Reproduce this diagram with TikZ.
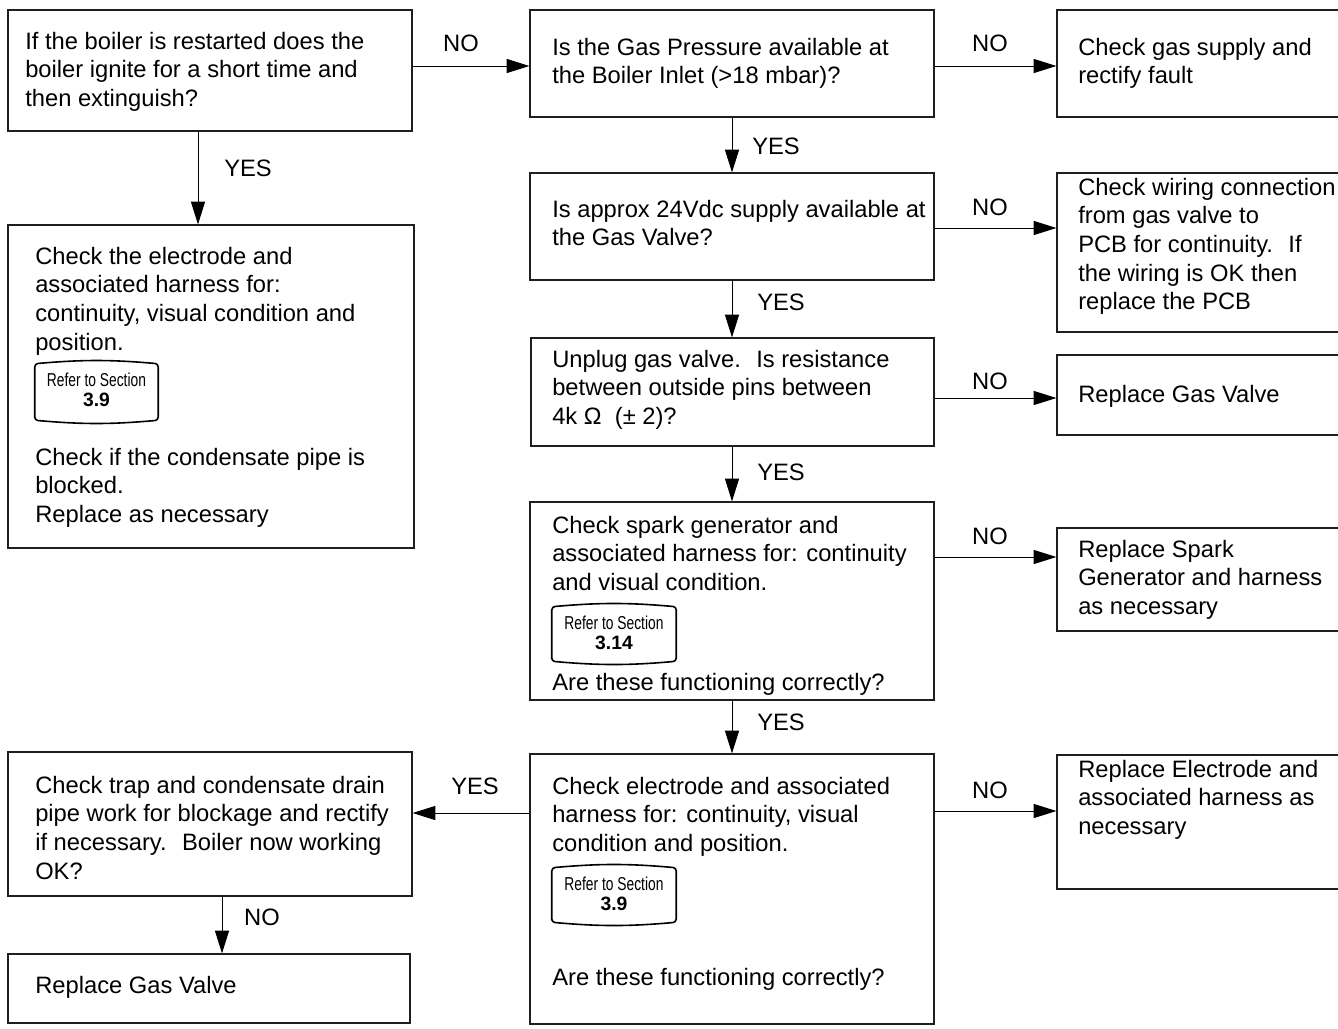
\documentclass[tikz,border=0pt]{standalone}
\usepackage{fontspec}
\usepackage{graphicx}
\setmainfont{Liberation Sans}
\usetikzlibrary{arrows.meta,fit}
\newcommand\mlines[1]{\parbox[t]{12cm}{\raggedright #1}}
\begin{document}
\begin{tikzpicture}[x=0.75pt,y=-0.75pt,
  box/.style={draw=black!88, line width=0.9pt, inner sep=0pt},
  txt/.style={anchor=base west, inner sep=0pt, font=\fontsize{17.8}{21.5}\selectfont},
  lbl/.style={inner sep=0pt, font=\fontsize{17.8}{21.5}\selectfont},
  arr/.style={draw=black, line width=0.75pt, -{Triangle[length=17pt,width=10.5pt]}},
  refbox/.style={inner sep=0pt},
  refline/.style={draw=black, line width=1.2pt, rounded corners=2.5pt},
  reftxt/.style={anchor=base, inner sep=0pt, font=\fontsize{14}{14}\selectfont}
]
\useasboundingbox (0,0) rectangle (1338,1028);

% ---- boxes ----
\node[box, fit={(8,10) (412,131)}]     (A) {};
\node[box, fit={(530,10) (934,117)}]   (B) {};
\node[box, fit={(1057,10) (1345,117)}] (C) {};
\node[box, fit={(8,225) (414,548)}]    (D) {};
\node[box, fit={(530,173) (934,280)}]  (E) {};
\node[box, fit={(1057,173) (1345,332)}] (F) {};
\node[box, fit={(531,338) (934,446)}]  (G) {};
\node[box, fit={(1057,355) (1345,435)}] (H) {};
\node[box, fit={(530,502) (934,700)}]  (I) {};
\node[box, fit={(1057,528) (1345,631)}] (J) {};
\node[box, fit={(530,754) (934,1024)}] (K) {};
\node[box, fit={(1057,755) (1345,889)}] (L) {};
\node[box, fit={(8,752) (412,896)}]    (M) {};
\node[box, fit={(8,954) (410,1023)}]   (N) {};

% ---- texts ----
\node[txt] (At) at (25,49) {\mlines{If the boiler is restarted does the\\boiler ignite for a short time and\\then extinguish?}};
\node[txt] (Bt) at (552,55) {\mlines{Is the Gas Pressure available at\\the Boiler Inlet (>18 mbar)?}};
\node[txt] (Ct) at (1078,55) {\mlines{Check gas supply and\\rectify fault}};
\node[txt] (Dt1) at (35,264) {\mlines{Check the electrode and\\associated harness for:\\continuity, visual condition and\\position.}};
\node[txt] (Dt2) at (35,465) {\mlines{Check if the condensate pipe is\\blocked.\\Replace as necessary}};
\node[txt] (Et) at (552,217) {\mlines{Is approx 24Vdc supply available at\\the Gas Valve?}};
\node[txt] (Ft) at (1078,195) {\mlines{Check wiring connection\\from gas valve to\\PCB for continuity.~ If\\the wiring is OK then\\replace the PCB}};
\node[txt] (Gt) at (552,367) {\mlines{Unplug gas valve.~ Is resistance\\between outside pins between\\4k Ω ~(± 2)?}};
\node[txt] (Ht) at (1078,402) {\mlines{Replace Gas Valve}};
\node[txt] (It1) at (552,533) {\mlines{Check spark generator and\\associated harness for: continuity\\and visual condition.}};
\node[txt] (It2) at (552,690) {\mlines{Are these functioning correctly?}};
\node[txt] (Jt) at (1078,557) {\mlines{Replace Spark\\Generator and harness\\as necessary}};
\node[txt] (Kt1) at (552,794) {\mlines{Check electrode and associated\\harness for: continuity, visual\\condition and position.}};
\node[txt] (Kt2) at (552,985) {\mlines{Are these functioning correctly?}};
\node[txt] (Lt) at (1078,777) {\mlines{Replace Electrode and\\associated harness as\\necessary}};
\node[txt] (Mt) at (35,793) {\mlines{Check trap and condensate drain\\pipe work for blockage and rectify\\if necessary.~ Boiler now working\\OK?}};
\node[txt] (Nt) at (35,993) {\mlines{Replace Gas Valve}};

% ---- refer to section boxes ----
\node[refbox, fit={(35,364) (158,420)}] (RD) {};
\node[refbox, fit={(552,607) (676,661)}] (RI) {};
\node[refbox, fit={(552,868) (676,922)}] (RK) {};
\foreach \r in {RD,RI,RK}{
  \draw[refline] (\r.south west) -- (\r.north west) to[bend left=5] (\r.north east) -- (\r.south east) to[bend left=5] (\r.south west) -- cycle;
}
\node[reftxt] (RDt) at (96.5,386) {\parbox[t]{3cm}{\centering\scalebox{0.74}[1]{Refer to Section}\\[1pt]{\fontsize{14.5}{14}\selectfont\textbf{3.9}}}};
\node[reftxt] (RIt) at (614,629) {\parbox[t]{3cm}{\centering\scalebox{0.74}[1]{Refer to Section}\\[1pt]{\fontsize{14.5}{14}\selectfont\textbf{3.14}}}};
\node[reftxt] (RKt) at (614,890) {\parbox[t]{3cm}{\centering\scalebox{0.74}[1]{Refer to Section}\\[1pt]{\fontsize{14.5}{14}\selectfont\textbf{3.9}}}};

% ---- connectors ----
\coordinate (yAB) at (0,66);
\coordinate (yEF) at (0,228);
\coordinate (yGH) at (0,398);
\coordinate (yIJ) at (0,557);
\coordinate (yKL) at (0,811);
\coordinate (yKM) at (0,813);
\coordinate (xAD) at (198,0);
\coordinate (xMN) at (222,0);

\draw[arr] (A.east |- yAB) -- (B.west |- yAB);
\draw[arr] (B.east |- yAB) -- (C.west |- yAB);
\draw[arr] (A.south -| xAD) -- (D.north -| xAD);
\draw[arr] (B.south) -- (E.north);
\draw[arr] (E.east |- yEF) -- (F.west |- yEF);
\draw[arr] (E.south) -- (E.south |- G.north);
\draw[arr] (G.east |- yGH) -- (H.west |- yGH);
\draw[arr] (E.south |- G.south) -- (E.south |- I.north);
\draw[arr] (I.east |- yIJ) -- (J.west |- yIJ);
\draw[arr] (I.south) -- (K.north);
\draw[arr] (K.east |- yKL) -- (L.west |- yKL);
\draw[arr] (K.west |- yKM) -- (M.east |- yKM);
\draw[arr] (M.south -| xMN) -- (N.north -| xMN);

% ---- labels ----
\node[lbl] (lAB) at (461,43) {NO};
\node[lbl] (lBC) at (990,43) {NO};
\node[lbl] (lAD) at (248,168) {YES};
\node[lbl] (lBE) at (776,146) {YES};
\node[lbl] (lEF) at (990,207) {NO};
\node[lbl] (lEG) at (781,302) {YES};
\node[lbl] (lGH) at (990,381) {NO};
\node[lbl] (lGI) at (781,472) {YES};
\node[lbl] (lIJ) at (990,536) {NO};
\node[lbl] (lIK) at (781,722) {YES};
\node[lbl] (lKL) at (990,790) {NO};
\node[lbl] (lKM) at (475,786) {YES};
\node[lbl] (lMN) at (262,917) {NO};
\end{tikzpicture}
\end{document}
